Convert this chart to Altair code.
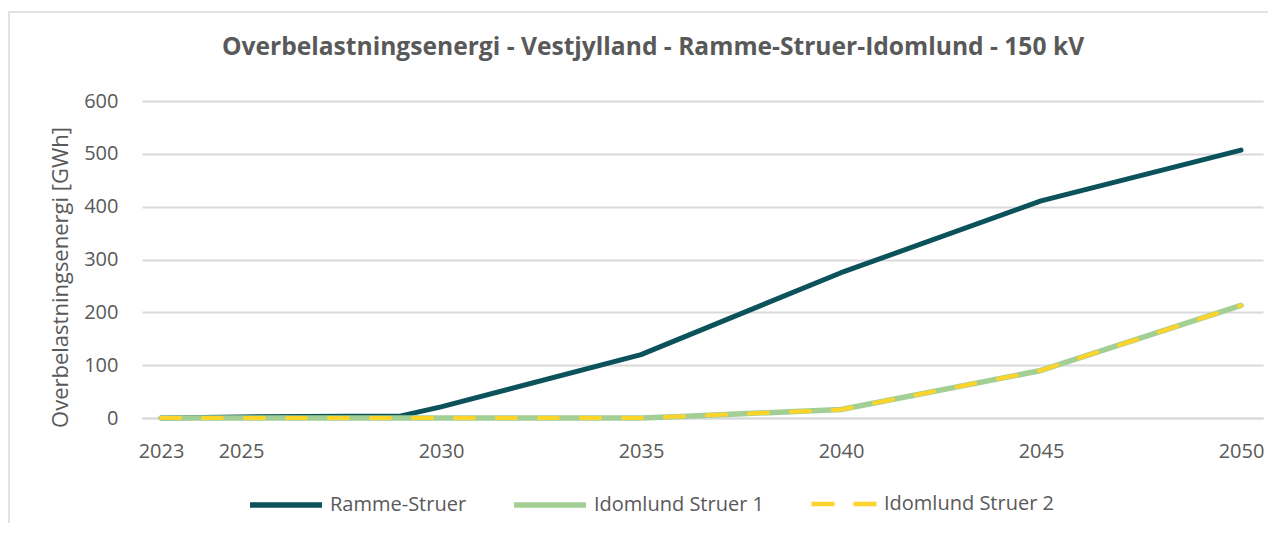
import altair as alt
import pandas as pd

TITLE = "Overbelastningsenergi - Vestjylland - Ramme-Struer-Idomlund - 150 kV"
Y_TITLE = "Overbelastningsenergi [GWh]"
SERIES = ["Ramme-Struer", "Idomlund Struer 1", "Idomlund Struer 2"]
COLORS = ["#0B525B", "#A3CF94", "#FFD42A"]

RAMME_YEARS = [2023, 2025, 2029, 2030, 2035, 2040, 2045, 2050]
RAMME_VALUES = [0, 2, 4, 21, 120, 275, 411, 507]
IDOM_YEARS = [2023, 2035, 2036, 2040, 2045, 2050]
IDOM1_VALUES = [0, 0, 3, 16, 90, 213]
IDOM2_VALUES = [0, 0, 3, 16, 90, 213]
X_TICKS = [2023, 2025, 2030, 2035, 2040, 2045, 2050]
Y_TICKS = [0, 100, 200, 300, 400, 500, 600]

FONT = "Open Sans"
GREY = "#595959"
W, H = 1121, 317

x_enc = alt.X(
    "year:Q",
    scale=alt.Scale(domain=[2022.525, 2050.55], nice=False, zero=False),
    axis=alt.Axis(values=X_TICKS, format="d", grid=False, domain=True,
                  domainColor="#d9d9d9", domainWidth=2, ticks=False,
                  labelPadding=23, labelFontSize=20, labelColor=GREY,
                  labelFont=FONT, labelFlush=False, title=None),
)
y_enc = alt.Y(
    "value:Q",
    scale=alt.Scale(domain=[0, 600], nice=False),
    axis=alt.Axis(values=Y_TICKS, grid=True, gridColor="#d9d9d9", gridWidth=2,
                  domain=False, ticks=False, labelPadding=24, labelFontSize=20,
                  labelColor=GREY, labelFont=FONT, title=Y_TITLE,
                  titleFontSize=22, titleFontWeight="normal", titleColor=GREY,
                  titleFont=FONT, titleX=-82, titleY=176, titleAngle=-90,
                  titleAlign="center", titleBaseline="middle"),
)


def legend(x, y, size, sw, dash=None):
    kw = dict(orient="none", legendX=x, legendY=y, title=None,
              symbolType="stroke", symbolSize=size, symbolStrokeWidth=sw,
              labelFont=FONT, labelFontSize=20, labelColor=GREY, labelLimit=400,
              padding=0, labelOffset=5)
    if dash:
        kw["symbolDash"] = dash
    return alt.Legend(**kw)


df_r = pd.DataFrame({"year": RAMME_YEARS, "value": RAMME_VALUES, "series": SERIES[0]})
df_1 = pd.DataFrame({"year": IDOM_YEARS, "value": IDOM1_VALUES, "series": SERIES[1]})
df_2 = pd.DataFrame({"year": IDOM_YEARS, "value": IDOM2_VALUES, "series": SERIES[2]})

border = alt.Chart().mark_rect(filled=False, stroke="#d9d9d9", strokeWidth=1.5).encode(
    x=alt.value(-133), x2=alt.value(W + 300), y=alt.value(-89), y2=alt.value(H + 300)
)

ramme = alt.Chart(df_r).mark_line(strokeWidth=5, strokeCap="round", strokeJoin="round").encode(
    x=x_enc, y=y_enc,
    color=alt.Color("series:N", scale=alt.Scale(domain=[SERIES[0]], range=[COLORS[0]]),
                    legend=legend(105, 365, 72 * 72, 5.5)),
)
idom1 = alt.Chart(df_1).mark_line(strokeWidth=5.5, strokeCap="round", strokeJoin="round").encode(
    x=x_enc, y=y_enc,
    color=alt.Color("series:N", scale=alt.Scale(domain=[SERIES[1]], range=[COLORS[1]]),
                    legend=legend(369, 365, 72 * 72, 5.5)),
)
idom2 = alt.Chart(df_2).mark_line(strokeWidth=4, strokeCap="round", strokeJoin="round",
                                  strokeDash=[19, 23]).encode(
    x=x_enc, y=y_enc,
    color=alt.Color("series:N", scale=alt.Scale(domain=[SERIES[2]], range=[COLORS[2]]),
                    legend=legend(667, 368, 65 * 65, 4.5, [23, 19])),
)

title = alt.Chart(pd.DataFrame({"t": [TITLE]})).mark_text(
    font=FONT, fontSize=24.6, fontWeight="bold", color=GREY, align="center", baseline="middle"
).encode(text="t:N", x=alt.value(511), y=alt.value(-53))

chart = (
    alt.layer(border, ramme, idom1, idom2, title)
    .resolve_scale(color="independent")
    .resolve_legend(color="independent")
    .properties(
        width=W, height=H,
        padding={"left": 134, "top": 93, "right": 5, "bottom": 105},
        autosize=alt.AutoSizeParams(type="none"),
        background="white",
    )
    .configure_view(stroke=None)
)

chart.save("out.html", embed_options={"renderer": "svg", "actions": False})
